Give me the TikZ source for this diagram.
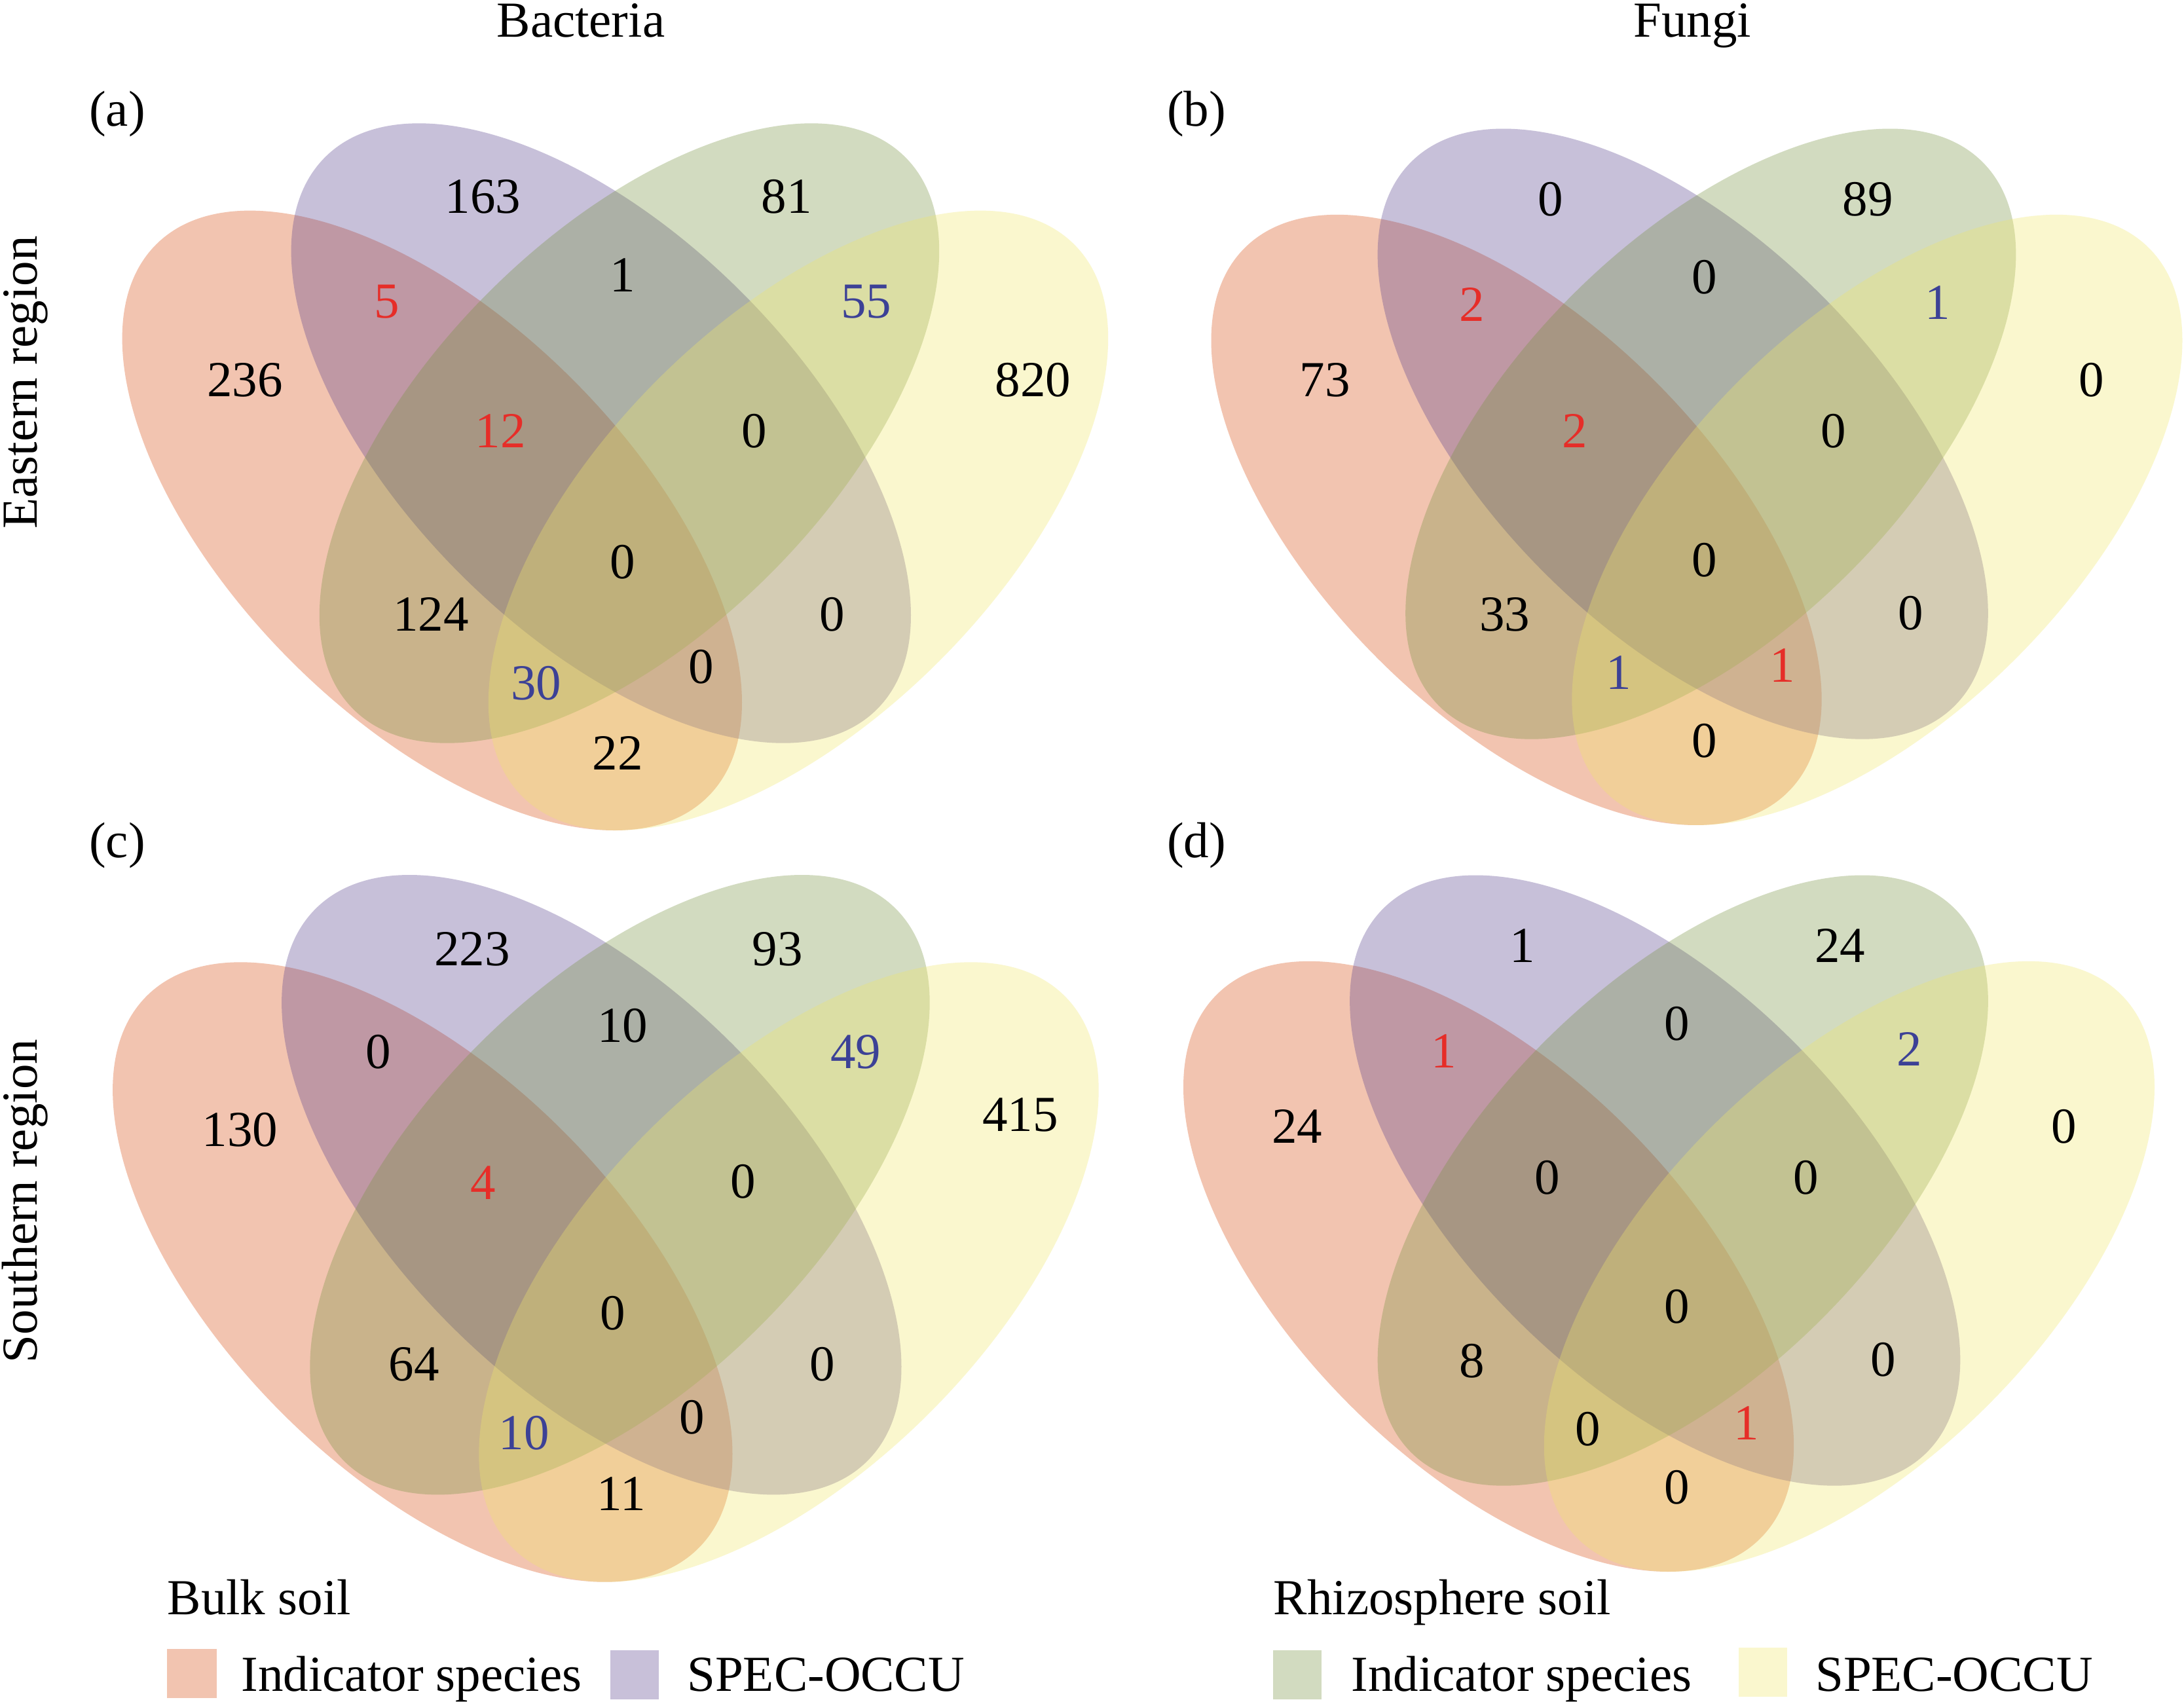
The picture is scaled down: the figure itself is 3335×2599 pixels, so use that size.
\documentclass[tikz,border=0pt]{standalone}
\usepackage{fontspec}
\setmainfont{Liberation Serif}
\definecolor{cred}{RGB}{216,76,16}
\definecolor{cpur}{RGB}{88,64,140}
\definecolor{cgrn}{RGB}{119,146,64}
\definecolor{cyel}{RGB}{240,231,107}
\definecolor{sred}{RGB}{242,196,176}
\definecolor{spur}{RGB}{200,192,217}
\definecolor{sgrn}{RGB}{210,219,192}
\definecolor{syel}{RGB}{250,247,206}
\definecolor{tred}{RGB}{230,45,40}
\definecolor{tblu}{RGB}{60,65,150}
\tikzset{
  vfill/.style={fill=#1, fill opacity=0.33},
  lab/.style={inner sep=0pt, font=\fontsize{21.9}{26}\selectfont, text=#1},
  venn ellipse/.style={x radius=596, y radius=304},
}
\newcommand\fourvenn[3]{%
  \begin{scope}[shift={(#1,#2)},scale=#3]
    \fill[vfill=cred, shift={(-279.6,607.2)}, rotate=-45] (0,0) ellipse [venn ellipse];
    \fill[vfill=cpur, shift={(-21.6,473.9)}, rotate=-45] (0,0) ellipse [venn ellipse];
    \fill[vfill=cgrn, shift={(21.6,473.9)}, rotate=45] (0,0) ellipse [venn ellipse];
    \fill[vfill=cyel, shift={(279.6,607.2)}, rotate=45] (0,0) ellipse [venn ellipse];
  \end{scope}}
\begin{document}
\begin{tikzpicture}[x=0.01cm, y=-0.01cm]
\useasboundingbox (0,0) rectangle (3335,2599);
\fill[white] (0,0) rectangle (3335,2599);

\fourvenn{939.4}{187.6}{1}
\fourvenn{2591}{195.8}{0.985}
\fourvenn{924.9}{1335.3}{1}
\fourvenn{2548.5}{1335.8}{0.985}

% headers
\node[lab=black, anchor=base] (hbac) at (886.9,56) {Bacteria};
\node[lab=black, anchor=base] (hfun) at (2584.2,56) {Fungi};
\node[lab=black, anchor=base, rotate=90] (reast) at (56,584) {Eastern region};
\node[lab=black, anchor=base, rotate=90] (rsouth) at (56,1834) {Southern region};
\node[lab=black] (tga) at (178.9,174.4) {(a)};
\node[lab=black] (tgb) at (1827.2,174.4) {(b)};
\node[lab=black] (tgc) at (178.9,1291.3) {(c)};
\node[lab=black] (tgd) at (1827.2,1291.3) {(d)};

% panel (a)
\node[lab=black] (a01) at (737.3,300.3) {163};
\node[lab=black] (a02) at (1201.3,300.3) {81};
\node[lab=tred]  (a03) at (590.9,460.7) {5};
\node[lab=black] (a04) at (950.8,419.6) {1};
\node[lab=tblu]  (a05) at (1322.7,460.7) {55};
\node[lab=black] (a06) at (374,580) {236};
\node[lab=black] (a07) at (1577.5,580) {820};
\node[lab=tred]  (a08) at (764.4,658.2) {12};
\node[lab=black] (a09) at (1151.4,658.2) {0};
\node[lab=black] (a10) at (950.8,858.1) {0};
\node[lab=black] (a11) at (658.1,937.9) {124};
\node[lab=black] (a12) at (1270.7,937.9) {0};
\node[lab=tblu]  (a13) at (818.6,1043.2) {30};
\node[lab=black] (a14) at (1071.2,1018.5) {0};
\node[lab=black] (a15) at (943.3,1150.1) {22};

% panel (b)
\node[lab=black] (b01) at (2367.3,304.4) {0};
\node[lab=black] (b02) at (2852.2,304.4) {89};
\node[lab=tred]  (b03) at (2247.4,464.8) {2};
\node[lab=black] (b04) at (2603,423.7) {0};
\node[lab=tblu]  (b05) at (2958.5,462.4) {1};
\node[lab=black] (b06) at (2023.2,580) {73};
\node[lab=black] (b07) at (3194.2,580) {0};
\node[lab=tred]  (b08) at (2404.9,658.2) {2};
\node[lab=black] (b09) at (2800,658.2) {0};
\node[lab=black] (b10) at (2603,855.6) {0};
\node[lab=black] (b11) at (2297.5,937.9) {33};
\node[lab=black] (b12) at (2917.9,936.2) {0};
\node[lab=tblu]  (b13) at (2471.6,1026.7) {1};
\node[lab=tred]  (b14) at (2721.8,1016) {1};
\node[lab=black] (b15) at (2603,1131.2) {0};

% panel (c)
\node[lab=black] (c01) at (721,1449) {223};
\node[lab=black] (c02) at (1187.2,1449) {93};
\node[lab=black] (c03) at (577.9,1606.7) {0};
\node[lab=black] (c04) at (950.8,1566.4) {10};
\node[lab=tblu]  (c05) at (1306.5,1606.7) {49};
\node[lab=black] (c06) at (366.5,1725.5) {130};
\node[lab=black] (c07) at (1558,1702) {415};
\node[lab=tred]  (c08) at (737.3,1806.2) {4};
\node[lab=black] (c09) at (1135.2,1804.7) {0};
\node[lab=black] (c10) at (935.7,2005) {0};
\node[lab=black] (c11) at (632.1,2083.4) {64};
\node[lab=black] (c12) at (1255.5,2083.4) {0};
\node[lab=tblu]  (c13) at (800.1,2188.3) {10};
\node[lab=black] (c14) at (1057.1,2164.1) {0};
\node[lab=black] (c15) at (948.7,2281.4) {11};

% panel (d)
\node[lab=black] (d01) at (2324.8,1444.4) {1};
\node[lab=black] (d02) at (2809.7,1444.4) {24};
\node[lab=tred]  (d03) at (2204.9,1604.8) {1};
\node[lab=black] (d04) at (2560.5,1563.7) {0};
\node[lab=tblu]  (d05) at (2916,1602.4) {2};
\node[lab=black] (d06) at (1980.7,1720) {24};
\node[lab=black] (d07) at (3151.7,1720) {0};
\node[lab=black] (d08) at (2362.4,1798.2) {0};
\node[lab=black] (d09) at (2757.5,1798.2) {0};
\node[lab=black] (d10) at (2560.5,1995.6) {0};
\node[lab=black] (d11) at (2248,2077.9) {8};
\node[lab=black] (d12) at (2875.4,2076.2) {0};
\node[lab=black] (d13) at (2425,2182) {0};
\node[lab=tred]  (d14) at (2667,2173) {1};
\node[lab=black] (d15) at (2560.5,2271.2) {0};

% legend
\node[lab=black, anchor=base west] (lbulk) at (255,2465) {Bulk soil};
\node[lab=black, anchor=base west] (lrhiz) at (1944,2465) {Rhizosphere soil};
\fill[sred] (255,2518) rectangle (331,2593);
\fill[spur] (932,2520) rectangle (1006,2595);
\fill[sgrn] (1944,2520) rectangle (2018,2595);
\fill[syel] (2655,2516) rectangle (2729,2591);
\node[lab=black, anchor=base west] (li1) at (368,2582) {Indicator species};
\node[lab=black, anchor=base west] (ls1) at (1048.6,2582) {SPEC-OCCU};
\node[lab=black, anchor=base west] (li2) at (2063,2582) {Indicator species};
\node[lab=black, anchor=base west] (ls2) at (2771.5,2582) {SPEC-OCCU};
\end{tikzpicture}
\end{document}
